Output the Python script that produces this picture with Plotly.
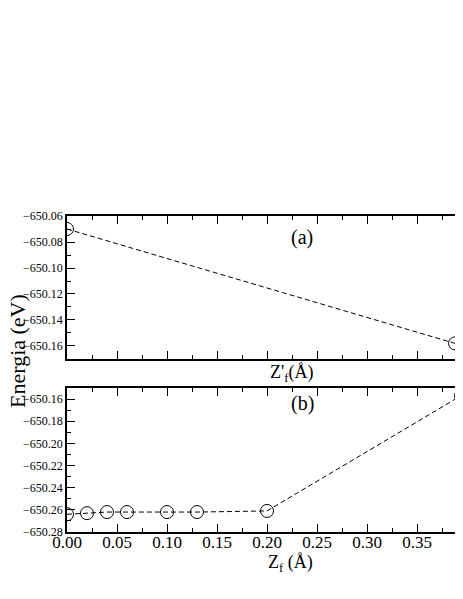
import plotly.graph_objects as go

# panel (a): energy vs Z'_f
za = [0.0, 0.388, 0.397]
ea = [-650.070, -650.158, -650.158]

# panel (b): energy vs Z_f
zb = [0.0, 0.02, 0.04, 0.06, 0.10, 0.13, 0.20, 0.394]
eb = [-650.264, -650.263, -650.262, -650.262, -650.262, -650.262, -650.261, -650.157]

serif = "Liberation Serif"

line_style = dict(color="black", width=1, dash="5px,3px")
marker_style = dict(symbol="circle-open", size=13, color="black", line=dict(width=1, color="black"))

fig = go.Figure()
fig.add_trace(go.Scatter(x=za, y=ea, mode="lines+markers", line=line_style,
                         marker=marker_style, xaxis="x", yaxis="y"))
fig.add_trace(go.Scatter(x=zb, y=eb, mode="lines+markers", line=line_style,
                         marker=marker_style, xaxis="x2", yaxis="y2"))

xcommon = dict(range=[0, 0.396], dtick=0.05, ticks="inside", ticklen=8,
               tickcolor="black", showline=True, linecolor="black", linewidth=1.5,
               mirror="ticks", showgrid=False, zeroline=False,
               minor=dict(dtick=0.025, ticks="inside", ticklen=4, tickcolor="black"))
ycommon = dict(dtick=0.02, tickformat=".2f", ticks="inside", ticklen=8,
               tickcolor="black", showline=True, linecolor="black", linewidth=1.5,
               mirror="ticks", showgrid=False, zeroline=False,
               tickfont=dict(family=serif, size=12, color="black"),
               minor=dict(dtick=0.01, ticks="inside", ticklen=4, tickcolor="black"))

# page has an 8px body margin, so the figure is a bit smaller than the window
OFF = 8
W, H = 463 - OFF, 599 - OFF
L, R, T, B = 67 - OFF, 0, 216 - OFF, 67

fig.update_layout(
    width=W, height=H,
    margin=dict(l=L, r=R, t=T, b=B, autoexpand=False),
    paper_bgcolor="white", plot_bgcolor="white",
    showlegend=False,
    font=dict(family=serif, color="black"),
    xaxis=dict(xcommon, domain=[0, 1], anchor="y", showticklabels=False),
    yaxis=dict(ycommon, domain=[0.5475, 1], anchor="x", range=[-650.17, -650.06]),
    xaxis2=dict(xcommon, domain=[0, 1], anchor="y2", tickformat=".2f",
                ticklabelstandoff=-6,
                tickfont=dict(family=serif, size=17, color="black")),
    yaxis2=dict(ycommon, domain=[0, 0.4557], anchor="x2", range=[-650.28, -650.15]),
)

# labels placed by window pixel position, converted to paper coords
labels = [
    ("(a)", 302, 237, 20, 0),
    ("(b)", 302, 403, 20, 0),
    ("Z'<sub>f</sub>(Å)", 291, 373, 18, 0),
    ("Z<sub>f</sub> (Å)", 290, 563, 18, 0),
    ("Energia (eV)", 17, 351, 22, -90),
]
for text, px_x, px_y, size, angle in labels:
    fx, fy = px_x - OFF, px_y - OFF
    fig.add_annotation(text=text, xref="paper", yref="paper",
                       x=(fx - L) / (W - L - R), y=(H - B - fy) / (H - T - B),
                       xanchor="center", yanchor="middle",
                       showarrow=False, textangle=angle,
                       font=dict(family=serif, size=size, color="black"))

fig.write_html("out.html")
